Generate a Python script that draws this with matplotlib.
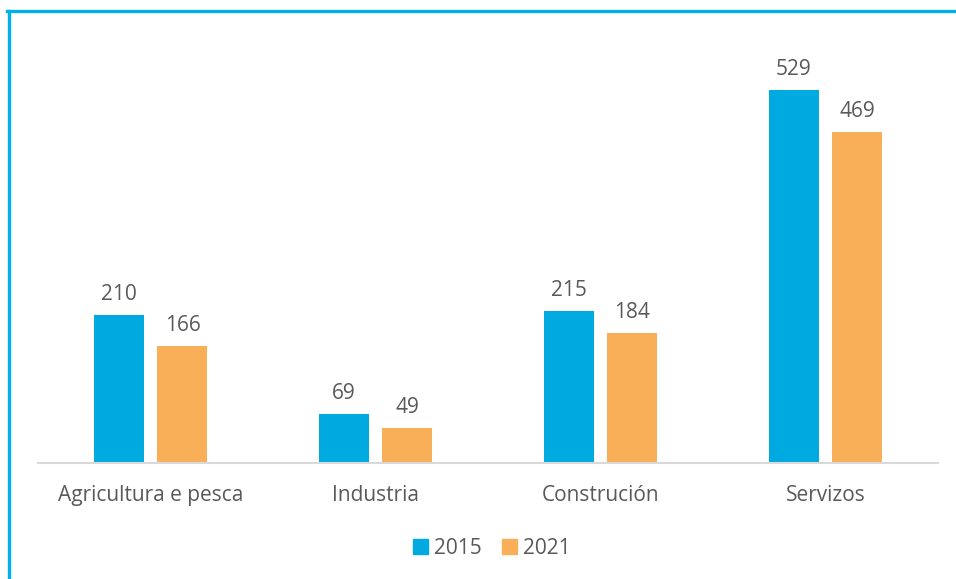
import matplotlib
matplotlib.use("Agg")
import matplotlib.pyplot as plt
import numpy as np
from matplotlib.patches import Patch
from matplotlib.lines import Line2D

categories = ["Agricultura e pesca", "Industria", "Construción", "Servizos"]
years = ["2015", "2021"]
values_2015 = [210, 69, 215, 529]
values_2021 = [166, 49, 184, 469]

BLUE = "#00A9E0"
ORANGE = "#F9AF58"
INK = "#595959"
FRAME = "#00B0E8"

plt.rcParams["font.family"] = ["Open Sans", "DejaVu Sans"]

W, H = 956, 579
fig = plt.figure(figsize=(W / 100, H / 100), dpi=100)
fig.patch.set_facecolor("white")

# axes placed in pixel terms: x 38..938, baseline at y=463
ax = fig.add_axes([38 / W, (H - 463) / H, 900 / W, (463 - 40) / H])
ax.set_xlim(-0.5, len(categories) - 0.5)
ax.set_ylim(0, 600)

x = np.arange(len(categories))
bw = 0.222
off = 0.142
b1 = ax.bar(x - off, values_2015, bw, color=BLUE, label=years[0])
b2 = ax.bar(x + off, values_2021, bw, color=ORANGE, label=years[1])

for bars in (b1, b2):
    for r in bars:
        ax.annotate("%d" % r.get_height(), xy=(r.get_x() + r.get_width() / 2, r.get_height()),
                    xytext=(0, 7.5), textcoords="offset points", ha="center", va="bottom",
                    fontsize=15, color=INK)

for s in ("top", "right", "left"):
    ax.spines[s].set_visible(False)
ax.spines["bottom"].set_color("#d9d9d9")
ax.spines["bottom"].set_linewidth(1.5)
ax.set_yticks([])
ax.set_xticks(x)
ax.set_xticklabels(categories, fontsize=15, color=INK)
ax.tick_params(axis="x", length=0, pad=16)

handles = [Patch(color=BLUE, label=years[0]), Patch(color=ORANGE, label=years[1])]
fig.legend(handles=handles, loc="center", bbox_to_anchor=(492 / W, 1 - 548 / H), ncol=2,
           frameon=False, fontsize=15, labelcolor=INK, handlelength=0.7, handleheight=0.7,
           handletextpad=0.3, columnspacing=1.0)

# partial frame: only top and left edges are visible in the crop
fig.add_artist(Line2D([8.5 / W, 8.5 / W], [0, 1 - 10.5 / H], transform=fig.transFigure,
                      color=FRAME, linewidth=2.4))
fig.add_artist(Line2D([7.3 / W, 1], [1 - 11 / H, 1 - 11 / H], transform=fig.transFigure,
                      color=FRAME, linewidth=2.4))

fig.savefig("out.png", dpi=100, facecolor="white")
